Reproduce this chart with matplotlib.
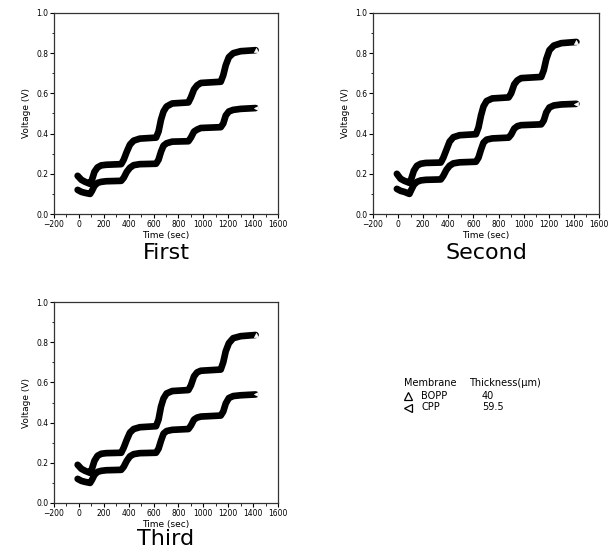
import matplotlib
matplotlib.use("Agg")
import matplotlib.pyplot as plt
from matplotlib.ticker import MultipleLocator

# ---- data ----
time_sec = [-10, 20, 50, 90, 105, 125, 150, 180, 220, 340, 360, 385, 410, 440, 490,
            620, 640, 660, 680, 705, 750, 880, 900, 925, 950, 980, 1140, 1160, 1180,
            1205, 1240, 1300, 1420]

bopp_first = [0.19, 0.17, 0.16, 0.15, 0.17, 0.21, 0.232, 0.242, 0.245, 0.248, 0.27, 0.31,
              0.345, 0.365, 0.375, 0.38, 0.41, 0.47, 0.51, 0.535, 0.55, 0.555, 0.58, 0.62,
              0.64, 0.652, 0.658, 0.69, 0.74, 0.78, 0.80, 0.81, 0.815]
cpp_first = [0.12, 0.11, 0.105, 0.10, 0.115, 0.14, 0.155, 0.16, 0.163, 0.165, 0.18, 0.21,
             0.23, 0.243, 0.248, 0.25, 0.27, 0.31, 0.34, 0.352, 0.36, 0.362, 0.38, 0.41,
             0.42, 0.428, 0.432, 0.45, 0.49, 0.51, 0.518, 0.523, 0.527]

bopp_second = [0.20, 0.175, 0.165, 0.155, 0.175, 0.215, 0.24, 0.25, 0.254, 0.256, 0.28, 0.32,
               0.36, 0.382, 0.392, 0.397, 0.43, 0.49, 0.535, 0.562, 0.575, 0.58, 0.60, 0.645,
               0.665, 0.676, 0.682, 0.715, 0.77, 0.815, 0.838, 0.85, 0.856]
cpp_second = [0.125, 0.115, 0.11, 0.10, 0.12, 0.145, 0.16, 0.167, 0.17, 0.172, 0.19, 0.22,
              0.24, 0.252, 0.257, 0.26, 0.28, 0.32, 0.355, 0.37, 0.376, 0.38, 0.395, 0.425,
              0.437, 0.442, 0.446, 0.465, 0.505, 0.53, 0.54, 0.545, 0.548]

bopp_third = [0.19, 0.17, 0.16, 0.15, 0.17, 0.21, 0.235, 0.245, 0.248, 0.25, 0.275, 0.315,
              0.35, 0.368, 0.377, 0.382, 0.415, 0.48, 0.52, 0.545, 0.557, 0.562, 0.585, 0.63,
              0.65, 0.658, 0.664, 0.70, 0.755, 0.795, 0.82, 0.83, 0.836]
cpp_third = [0.12, 0.11, 0.105, 0.10, 0.115, 0.14, 0.155, 0.16, 0.163, 0.165, 0.18, 0.21,
             0.232, 0.243, 0.248, 0.25, 0.27, 0.31, 0.345, 0.358, 0.364, 0.368, 0.385, 0.415,
             0.425, 0.43, 0.435, 0.455, 0.495, 0.522, 0.532, 0.536, 0.54]

panel_titles = ["First", "Second", "Third"]
x_ticks = [-200, 0, 200, 400, 600, 800, 1000, 1200, 1400, 1600]
y_ticks = [0.0, 0.2, 0.4, 0.6, 0.8, 1.0]

legend_header = ["Membrane", "Thickness(\u03bcm)"]
membranes = ["BOPP", "CPP"]
thickness = ["40", "59.5"]

# ---- figure ----
fig = plt.figure(figsize=(6.11, 5.58), dpi=100)
plt.rcParams['font.family'] = ['DejaVu Sans']

W, H = 611, 558
def rect(l, t, r, b):
    return [l / W, 1 - b / H, (r - l) / W, (b - t) / H]

axes_px = [(54, 13, 278, 214), (373, 13, 599, 214), (54, 302, 278, 503)]
title_top = [243, 243, 529]
panels = [(bopp_first, cpp_first), (bopp_second, cpp_second), (bopp_third, cpp_third)]

for px, (up, low), title, tt in zip(axes_px, panels, panel_titles, title_top):
    ax = fig.add_axes(rect(*px))
    for series, mk in ((up, '^'), (low, '<')):
        ax.plot(time_sec, series, color='black', lw=4.8, solid_joinstyle='round',
                solid_capstyle='round')
        ax.plot(time_sec[-1:], series[-1:], linestyle='none', marker=mk, ms=3,
                mfc='white', mec='white', mew=0.5)
    ax.set_xlim(-200, 1600)
    ax.set_ylim(0, 1.0)
    ax.set_xticks(x_ticks)
    ax.set_yticks(y_ticks)
    ax.set_yticklabels([f"{v:.1f}" for v in y_ticks])
    ax.xaxis.set_minor_locator(MultipleLocator(100))
    ax.yaxis.set_minor_locator(MultipleLocator(0.1))
    ax.tick_params(which='major', direction='out', length=3, width=0.8, labelsize=5.5, pad=1)
    ax.tick_params(which='minor', direction='out', length=1.8, width=0.6)
    for s in ax.spines.values():
        s.set_linewidth(0.9)
        s.set_color('#333333')
    ax.set_xlabel("Time (sec)", fontsize=6.5, labelpad=2)
    ax.set_ylabel("Voltage (V)", fontsize=6.5, labelpad=4)
    xc = (px[0] + px[2]) / 2 / W
    fig.text(xc, 1 - tt / H, title, ha='center', va='top', fontsize=16)

# legend-like text block
fig.text(404 / W, 1 - 383 / H, legend_header[0], fontsize=7, va='center', ha='left')
fig.text(469 / W, 1 - 383 / H, legend_header[1], fontsize=7, va='center', ha='left')
markers = ['^', '<']
for i, (m, t) in enumerate(zip(membranes, thickness)):
    yy = 1 - (396 + 11.5 * i) / H
    fig.lines.append(plt.Line2D([408 / W], [yy], transform=fig.transFigure,
                                marker=markers[i], ms=6, mfc='white', mec='black',
                                mew=0.9, linestyle='none'))
    fig.text(421 / W, yy, m, fontsize=7, va='center', ha='left')
    fig.text(482 / W, yy, t, fontsize=7, va='center', ha='left')

fig.savefig("out.png", dpi=100)
